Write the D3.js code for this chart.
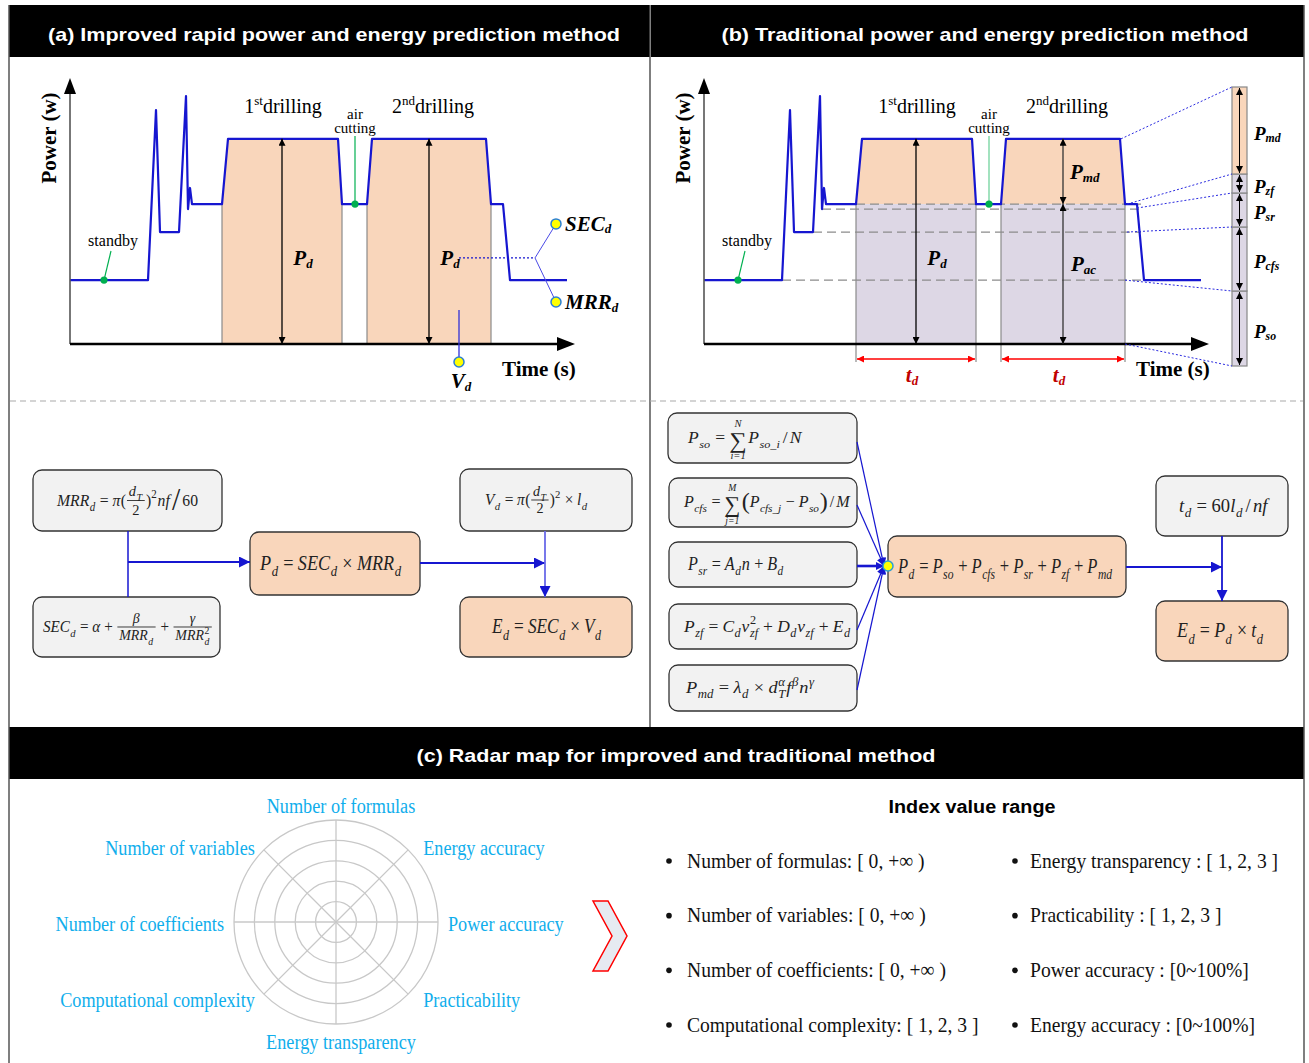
<!DOCTYPE html>
<html>
<head>
<meta charset="utf-8">
<script src="https://cdn.jsdelivr.net/npm/d3@7"></script>
<style>
  body { margin: 0; background: #fff; }
  svg { display: block; }
</style>
</head>
<body>
<div id="fig"></div>
<script>
// power curve of one drilling cycle (schematic, time in s, power in W)
var curveTime  = [0, 15.6, 17.2, 18, 21.8, 23.2, 23.6, 24, 24.4, 30.4, 31.6, 53.6, 54.4, 59.4, 60.4, 83.2, 84.2, 86.6, 88, 99.4];
var curvePower = [242, 242, 886, 424, 424, 939, 511, 591, 530, 530, 777, 777, 530, 530, 777, 777, 530, 530, 242, 242];
var drillStart = [30.4, 59.4];
var drillEnd   = [54.4, 84.2];
var drillNum   = ["1", "2"];
var drillSup   = ["st", "nd"];
var peakPower  = 777;

// idle levels that make up the base power in (b)
var levelPower = [242, 424, 511, 530];
var levelStart = [15.6, 21.8, 23.6, 30.4];

// magnified stack at the right of (b), bottom to top
var stackSubs   = ["so", "cfs", "sr", "zf", "md"];
var stackValues = [75, 64, 34, 19, 87];
// points of the curve that the dotted guides leave from
var guideTime  = [84.2, 84.2, 84.6, 86.6, 84.6, 83.4];
var guidePower = [0, 242, 424, 515, 530, 777];

// radar axes, clockwise from the top
var radarAxes = ["Number of formulas", "Energy accuracy", "Power accuracy", "Practicability",
                 "Energy transparency", "Computational complexity", "Number of coefficients", "Number of variables"];
var radarRings = [1, 2, 3, 4, 5];

var indexLeft  = ["Number of formulas: [ 0, +\u221e )", "Number of variables: [ 0, +\u221e )",
                  "Number of coefficients: [ 0, +\u221e )", "Computational complexity: [ 1, 2, 3 ]"];
var indexRight = ["Energy transparency : [ 1, 2, 3 ]", "Practicability : [ 1, 2, 3 ]",
                  "Power accuracy : [0~100%]", "Energy accuracy : [0~100%]"];

var titles = ["(a) Improved rapid power and energy prediction method",
              "(b) Traditional power and energy prediction method",
              "(c) Radar map for improved and traditional method"];

var SERIF = "'Liberation Serif','Times New Roman',serif";
var SANS = "'Liberation Sans',Arial,sans-serif";
var BLUE = "#1616d0", GREEN = "#00b050", PEACH = "#f9d6bb", LILAC = "#ddd7e5", BOX = "#f2f2f2";

var svg = d3.select("#fig").append("svg").attr("width", 1309).attr("height", 1063)
  .attr("font-family", SERIF);

var defs = svg.append("defs");
function marker(id, color, w, h) {
  defs.append("marker").attr("id", id).attr("viewBox", "0 0 10 10")
    .attr("refX", 10).attr("refY", 5).attr("markerWidth", w).attr("markerHeight", h)
    .attr("markerUnits", "userSpaceOnUse").attr("orient", "auto-start-reverse")
    .append("path").attr("d", "M0,0L10,5L0,10z").attr("fill", color);
}
marker("ab", "#000", 8, 7);
marker("ar", "#f00", 9, 7);
marker("au", BLUE, 14, 11);
marker("au2", BLUE, 10, 8);

function fitText(sel, w) { sel.attr("textLength", w).attr("lengthAdjust", "spacingAndGlyphs"); }
function squeeze(sel, k) {
  var L = sel.node().getComputedTextLength();
  sel.attr("textLength", L * k).attr("lengthAdjust", "spacingAndGlyphs");
}

// frame, headers, separators
svg.append("rect").attr("x", 9).attr("y", 5).attr("width", 641).attr("height", 52).attr("fill", "#000");
svg.append("rect").attr("x", 651).attr("y", 5).attr("width", 653).attr("height", 52).attr("fill", "#000");
svg.append("rect").attr("x", 9).attr("y", 727).attr("width", 1295).attr("height", 52).attr("fill", "#000");
[[9, 5, 9, 1063], [1304, 5, 1304, 1063], [650, 5, 650, 727]].forEach(function(l) {
  svg.append("line").attr("x1", l[0]).attr("y1", l[1]).attr("x2", l[2]).attr("y2", l[3])
    .attr("stroke", "#555").attr("stroke-width", 1.5);
});
svg.append("line").attr("x1", 10).attr("x2", 1303).attr("y1", 401).attr("y2", 401)
  .attr("stroke", "#aaa").attr("stroke-width", 1.2).attr("stroke-dasharray", "6,4");

[[334, 41, 572], [985, 41, 527], [676, 762, 519]].forEach(function(p, i) {
  var t = svg.append("text").attr("x", p[0]).attr("y", p[1]).attr("text-anchor", "middle")
    .attr("font-family", SANS).attr("font-weight", "bold").attr("font-size", 19)
    .attr("fill", "#fff").text(titles[i]);
  fitText(t, p[2]);
});

function subLabel(g, x, y, main, sub, fs, anchor, color) {
  var t = g.append("text").attr("x", x).attr("y", y).attr("font-size", fs)
    .attr("font-weight", "bold").attr("font-style", "italic")
    .attr("text-anchor", anchor || "start").attr("fill", color || "#000");
  t.append("tspan").text(main);
  t.append("tspan").attr("font-size", fs * 0.62).attr("dy", fs * 0.12).text(sub);
  return t;
}
function arrowLine(g, x1, y1, x2, y2, color, w, mEnd, mStart) {
  var l = g.append("line").attr("x1", x1).attr("y1", y1).attr("x2", x2).attr("y2", y2)
    .attr("stroke", color).attr("stroke-width", w);
  if (mEnd) l.attr("marker-end", "url(#" + mEnd + ")");
  if (mStart) l.attr("marker-start", "url(#" + mStart + ")");
  return l;
}
function dot(g, x, y, r, fill, stroke) {
  g.append("circle").attr("cx", x).attr("cy", y).attr("r", r).attr("fill", fill)
    .attr("stroke", stroke || "none").attr("stroke-width", 1.5);
}

// ---------- power / time charts ----------
function timeChart(ox, traditional) {
  var g = svg.append("g");
  var x = d3.scaleLinear().domain([0, 100]).range([ox, ox + 500]);
  var y = d3.scaleLinear().domain([0, 1000]).range([344, 80]);
  var pts = curveTime.map(function(t, i) { return [t, curvePower[i]]; });
  var idle = levelPower[levelPower.length - 1];

  drillStart.forEach(function(s, i) {
    var e = drillEnd[i];
    var seg = pts.filter(function(p) { return p[0] >= s && p[0] <= e; });
    var area = d3.area().x(function(p) { return x(p[0]); }).y1(function(p) { return y(p[1]); });
    if (!traditional) {
      g.append("path").attr("d", area.y0(y(0))(seg)).attr("fill", PEACH);
    } else {
      g.append("path").attr("d", area.y0(y(idle))(seg)).attr("fill", PEACH);
      g.append("rect").attr("x", x(s)).attr("width", x(e) - x(s)).attr("y", y(idle))
        .attr("height", y(0) - y(idle)).attr("fill", LILAC);
    }
    [s, e].forEach(function(t) {
      g.append("line").attr("x1", x(t)).attr("x2", x(t)).attr("y1", y(idle))
        .attr("y2", traditional ? 362 : y(0)).attr("stroke", "#8a8a8a").attr("stroke-width", 1.2);
    });
  });

  if (traditional) {
    levelPower.forEach(function(p, i) {
      g.append("line").attr("x1", x(levelStart[i])).attr("x2", x(87.4)).attr("y1", y(p)).attr("y2", y(p))
        .attr("stroke", "#8c8c8c").attr("stroke-width", 1.3).attr("stroke-dasharray", "9,5");
    });
  }

  // curve
  g.append("path").attr("d", d3.line().x(function(p) { return x(p[0]); }).y(function(p) { return y(p[1]); })(pts))
    .attr("fill", "none").attr("stroke", BLUE).attr("stroke-width", 2.2).attr("stroke-linejoin", "round");

  // axes
  g.append("line").attr("x1", ox).attr("x2", ox).attr("y1", y(0)).attr("y2", 90)
    .attr("stroke", "#555").attr("stroke-width", 1.6);
  g.append("path").attr("d", "M" + (ox - 6) + ",94L" + ox + ",78L" + (ox + 6) + ",94Z").attr("fill", "#000");
  g.append("line").attr("x1", ox).attr("x2", ox + 492).attr("y1", y(0)).attr("y2", y(0))
    .attr("stroke", "#000").attr("stroke-width", 2.6);
  g.append("path").attr("d", "M" + (ox + 487) + ",337L" + (ox + 505) + ",344L" + (ox + 487) + ",351Z").attr("fill", "#000");

  g.append("text").attr("transform", "translate(" + (ox - 21) + ",138) rotate(-90)")
    .attr("text-anchor", "middle").attr("dominant-baseline", "central")
    .attr("font-size", 21).attr("font-weight", "bold").text("Power (w)");
  g.append("text").attr("x", ox + 432).attr("y", 376).attr("font-size", 21)
    .attr("font-weight", "bold").text("Time (s)");

  // drilling titles
  drillStart.forEach(function(s, i) {
    var m = (s + drillEnd[i]) / 2;
    var t = g.append("text").attr("x", x(m) + (i ? 4 : 1)).attr("y", 113).attr("text-anchor", "middle").attr("font-size", 20);
    t.append("tspan").text(drillNum[i]);
    t.append("tspan").attr("font-size", 13).attr("dy", -8).text(drillSup[i]);
    t.append("tspan").attr("dy", 8).text("drilling");
  });

  // standby / air cutting markers
  g.append("line").attr("x1", x(6.8) + 7).attr("y1", 251).attr("x2", x(6.8)).attr("y2", y(242))
    .attr("stroke", GREEN).attr("stroke-width", 1.2);
  dot(g, x(6.8), y(242), 3.6, GREEN);
  g.append("text").attr("x", x(6.8) + 9).attr("y", 246).attr("text-anchor", "middle")
    .attr("font-size", 16).text("standby");
  g.append("line").attr("x1", x(57)).attr("x2", x(57)).attr("y1", 136).attr("y2", y(idle))
    .attr("stroke", GREEN).attr("stroke-width", 1.2).attr("opacity", traditional ? 0.6 : 1);
  dot(g, x(57), y(idle), 3.6, GREEN);
  g.append("text").attr("x", x(57)).attr("y", 119).attr("text-anchor", "middle").attr("font-size", 15).text("air");
  g.append("text").attr("x", x(57)).attr("y", 133).attr("text-anchor", "middle").attr("font-size", 15).text("cutting");

  var mid = drillStart.map(function(s, i) { return (s + drillEnd[i]) / 2; });

  if (!traditional) {
    mid.forEach(function(m) {
      arrowLine(g, x(m), y(peakPower), x(m), y(0), "#000", 1.3, "ab", "ab");
      subLabel(g, x(m) + 21, 265, "P", "d", 21, "middle");
    });
    // links to SEC / MRR / V
    g.append("line").attr("x1", x(77.8)).attr("x2", x(93)).attr("y1", y(326)).attr("y2", y(326))
      .attr("stroke", BLUE).attr("stroke-width", 1.3).attr("stroke-dasharray", "2,2");
    [455, 159].forEach(function(p) {
      g.append("line").attr("x1", x(93)).attr("y1", y(326)).attr("x2", x(97.2)).attr("y2", y(p))
        .attr("stroke", "#4a4ae6").attr("stroke-width", 1);
      dot(g, x(97.2), y(p), 5, "#ffff00", "#2a7fd4");
    });
    subLabel(g, x(97.2) + 9, y(455) + 7, "SEC", "d", 21);
    subLabel(g, x(97.2) + 9, y(159) + 7, "MRR", "d", 21);
    g.append("line").attr("x1", x(77.8)).attr("x2", x(77.8)).attr("y1", 310).attr("y2", 357)
      .attr("stroke", "#3030d8").attr("stroke-width", 1.3);
    dot(g, x(77.8), 362, 5, "#ffff00", "#2a7fd4");
    subLabel(g, x(77.8) + 2, 388, "V", "d", 21, "middle");
  } else {
    arrowLine(g, x(mid[0]), y(peakPower), x(mid[0]), y(0), "#000", 1.3, "ab", "ab");
    subLabel(g, x(mid[0]) + 21, 265, "P", "d", 21, "middle");
    arrowLine(g, x(mid[1]), y(peakPower), x(mid[1]), y(idle), "#333", 1.3, "ab", "ab");
    arrowLine(g, x(mid[1]), y(idle), x(mid[1]), y(0), "#333", 1.3, "ab", "ab");
    subLabel(g, x(mid[1]) + 7, 179, "P", "md", 21);
    subLabel(g, x(mid[1]) + 8, 271, "P", "ac", 21);
    drillStart.forEach(function(s, i) {
      arrowLine(g, x(s) + 1, 359, x(drillEnd[i]) - 1, 359, "#f00", 1.5, "ar", "ar");
      subLabel(g, x(mid[i]) - 4, 382, "t", "d", 21, "middle", "#c00000");
    });

    // magnified stack
    var total = d3.sum(stackValues);
    var sy = d3.scaleLinear().domain([0, total]).range([366, 87]);
    var cum = 0;
    var bx = 1232, bw = 15;
    stackValues.forEach(function(v, i) {
      var y0 = sy(cum), y1 = sy(cum + v);
      g.append("rect").attr("x", bx).attr("width", bw).attr("y", y1).attr("height", y0 - y1)
        .attr("fill", stackSubs[i] === "md" ? PEACH : LILAC).attr("stroke", "#888").attr("stroke-width", 1.2);
      arrowLine(g, bx + bw / 2, y1 + 1, bx + bw / 2, y0 - 1, "#000", 1, "ab", "ab");
      subLabel(g, 1254, (y0 + y1) / 2 + 9, "P", stackSubs[i], 19);
      cum += v;
    });
    // dotted guides from chart to stack
    var bounds = [0];
    stackValues.forEach(function(v, i) { bounds.push(bounds[i] + v); });
    guideTime.forEach(function(t, i) {
      g.append("line").attr("x1", x(t)).attr("y1", y(guidePower[i])).attr("x2", bx).attr("y2", sy(bounds[i]))
        .attr("stroke", "#2a2ae0").attr("stroke-width", 1).attr("stroke-dasharray", "2,2");
    });
  }
}
timeChart(70, false);
timeChart(704, true);

// ---------- formula boxes ----------
function put(g, s, x, y, fs, it, anchor) {
  var t = g.append("text").attr("x", x).attr("y", y).attr("font-size", fs)
    .attr("font-style", it ? "italic" : "normal").attr("text-anchor", anchor || "start").text(s);
  return t.node().getComputedTextLength();
}
var OPS = ["=", "+", "\u00d7", "\u2212", "/"];
function typeset(g, toks, fs) {
  var x = 0;
  toks.forEach(function(tk) {
    if (tk.t !== undefined) {
      var op = OPS.indexOf(tk.t) >= 0;
      var it = !(op || tk.r || /^[0-9()]+$/.test(tk.t));
      var pad = op ? fs * (tk.t === "/" ? 0.12 : 0.24) : 0;
      x += pad;
      x += put(g, tk.t, x, (tk.dy || 0) * fs, fs * (tk.k || 1), it);
      x += pad + (it ? fs * 0.03 : 0);
    } else if (tk.sub !== undefined || tk.sup !== undefined) {
      var w1 = 0, w2 = 0;
      if (tk.sub !== undefined) w1 = put(g, tk.sub, x, fs * 0.3, fs * 0.7, true);
      if (tk.sup !== undefined) w2 = put(g, tk.sup, x, -fs * 0.42, fs * 0.7, !/^[0-9]+$/.test(tk.sup));
      x += Math.max(w1, w2) + fs * 0.05;
    } else if (tk.frac) {
      var fs2 = fs * 0.92;
      var ng = g.append("g"), dg = g.append("g");
      var nw = typeset(ng, tk.frac[0], fs2), dw = typeset(dg, tk.frac[1], fs2);
      x += fs * 0.06;
      var w = Math.max(nw, dw) + fs * 0.24;
      var bar = -fs * 0.3;
      ng.attr("transform", "translate(" + (x + (w - nw) / 2) + "," + (bar - fs * 0.24) + ")");
      dg.attr("transform", "translate(" + (x + (w - dw) / 2) + "," + (bar + fs * 0.84) + ")");
      g.append("line").attr("x1", x).attr("x2", x + w).attr("y1", bar).attr("y2", bar)
        .attr("stroke", "#222").attr("stroke-width", 0.9);
      x += w + fs * 0.08;
    } else if (tk.sum) {
      var ws = put(g, "\u2211", x, fs * 0.3, fs * 1.4, false);
      put(g, tk.sum[0], x + ws / 2, -fs * 1.0, fs * 0.6, true, "middle");
      put(g, tk.sum[1], x + ws / 2, fs * 1.02, fs * 0.6, true, "middle");
      x += ws + fs * 0.08;
    }
  });
  return x;
}

var fMRR = [{t: "MRR"}, {sub: "d"}, {t: "="}, {t: "\u03c0"}, {t: "("}, {frac: [[{t: "d"}, {sub: "T"}], [{t: "2"}]]},
            {t: ")"}, {sup: "2"}, {t: "nf"}, {t: "/", k: 1.9, dy: 0.28}, {t: "60"}];
var fSEC = [{t: "SEC"}, {sub: "d"}, {t: "="}, {t: "\u03b1"}, {t: "+"}, {frac: [[{t: "\u03b2"}], [{t: "MRR"}, {sub: "d"}]]},
            {t: "+"}, {frac: [[{t: "\u03b3"}], [{t: "MRR"}, {sub: "d", sup: "2"}]]}];
var fPdA = [{t: "P"}, {sub: "d"}, {t: "="}, {t: "SEC"}, {sub: "d"}, {t: "\u00d7"}, {t: "MRR"}, {sub: "d"}];
var fVd = [{t: "V"}, {sub: "d"}, {t: "="}, {t: "\u03c0"}, {t: "("}, {frac: [[{t: "d"}, {sub: "T"}], [{t: "2"}]]},
           {t: ")"}, {sup: "2"}, {t: "\u00d7"}, {t: "l"}, {sub: "d"}];
var fEdA = [{t: "E"}, {sub: "d"}, {t: "="}, {t: "SEC"}, {sub: "d"}, {t: "\u00d7"}, {t: "V"}, {sub: "d"}];
var fPso = [{t: "P"}, {sub: "so"}, {t: "="}, {sum: ["N", "i=1"]}, {t: "P"}, {sub: "so_i"}, {t: "/"}, {t: "N"}];
var fPcfs = [{t: "P"}, {sub: "cfs"}, {t: "="}, {sum: ["M", "j=1"]}, {t: "(", k: 1.5, dy: 0.12}, {t: "P"}, {sub: "cfs_j"},
             {t: "\u2212"}, {t: "P"}, {sub: "so"}, {t: ")", k: 1.5, dy: 0.12}, {t: "/"}, {t: "M"}];
var fPsr = [{t: "P"}, {sub: "sr"}, {t: "="}, {t: "A"}, {sub: "d"}, {t: "n"}, {t: "+"}, {t: "B"}, {sub: "d"}];
var fPzf = [{t: "P"}, {sub: "zf"}, {t: "="}, {t: "C"}, {sub: "d"}, {t: "v"}, {sub: "zf", sup: "2"}, {t: "+"},
            {t: "D"}, {sub: "d"}, {t: "v"}, {sub: "zf"}, {t: "+"}, {t: "E"}, {sub: "d"}];
var fPmd = [{t: "P"}, {sub: "md"}, {t: "="}, {t: "\u03bb"}, {sub: "d"}, {t: "\u00d7"}, {t: "d"}, {sub: "T", sup: "\u03b1"},
            {t: "f"}, {sup: "\u03b2"}, {t: "n"}, {sup: "\u03b3"}];
var fPdB = [{t: "P"}, {sub: "d"}, {t: "="}, {t: "P"}, {sub: "so"}, {t: "+"}, {t: "P"}, {sub: "cfs"}, {t: "+"},
            {t: "P"}, {sub: "sr"}, {t: "+"}, {t: "P"}, {sub: "zf"}, {t: "+"}, {t: "P"}, {sub: "md"}];
var fTd = [{t: "t"}, {sub: "d"}, {t: "="}, {t: "60"}, {t: "l"}, {sub: "d"}, {t: "/"}, {t: "nf"}];
var fEdB = [{t: "E"}, {sub: "d"}, {t: "="}, {t: "P"}, {sub: "d"}, {t: "\u00d7"}, {t: "t"}, {sub: "d"}];

var formulaBoxes = [
  {box: [33, 470, 222, 531], fill: BOX, toks: fMRR, fs: 17, x: 57, w: 141},
  {box: [33, 597, 220, 657], fill: BOX, toks: fSEC, fs: 16, x: 43, w: 170},
  {box: [250, 532, 420, 595], fill: PEACH, toks: fPdA, fs: 21, x: 260, w: 142},
  {box: [460, 469, 632, 531], fill: BOX, toks: fVd, fs: 16, x: 485, w: 103},
  {box: [460, 597, 632, 657], fill: PEACH, toks: fEdA, fs: 21, x: 492, w: 110},
  {box: [668, 413, 857, 463], fill: BOX, toks: fPso, fs: 16, x: 688, w: 114},
  {box: [669, 478, 857, 527], fill: BOX, toks: fPcfs, fs: 16, x: 684, w: 166},
  {box: [669, 542, 857, 587], fill: BOX, toks: fPsr, fs: 18, x: 688, w: 96},
  {box: [669, 604, 857, 649], fill: BOX, toks: fPzf, fs: 17, x: 684, w: 167},
  {box: [669, 665, 857, 711], fill: BOX, toks: fPmd, fs: 17, x: 686, w: 129},
  {box: [888, 536, 1126, 597], fill: PEACH, toks: fPdB, fs: 20, x: 898, w: 215},
  {box: [1156, 476, 1288, 536], fill: BOX, toks: fTd, fs: 19, x: 1179, w: 89},
  {box: [1156, 601, 1288, 661], fill: PEACH, toks: fEdB, fs: 21, x: 1177, w: 87}
];

var fg = svg.append("g");
formulaBoxes.forEach(function(f) {
  var b = f.box;
  fg.append("rect").attr("x", b[0]).attr("y", b[1]).attr("width", b[2] - b[0]).attr("height", b[3] - b[1])
    .attr("rx", 9).attr("fill", f.fill).attr("stroke", "#333").attr("stroke-width", 1.3);
  var g = fg.append("g").attr("fill", "#222");
  var w0 = typeset(g, f.toks, f.fs);
  var base = (b[1] + b[3]) / 2 + f.fs * 0.3;
  g.attr("transform", "translate(" + f.x + "," + base + ") scale(" + (f.w / w0) + ",1)");
});

// flow arrows (a)
arrowLine(fg, 128, 531, 128, 597, BLUE, 1.5);
arrowLine(fg, 128, 562, 250, 562, BLUE, 1.8, "au");
arrowLine(fg, 420, 563, 545, 563, BLUE, 1.8, "au");
arrowLine(fg, 545, 531, 545, 597, "#6a6ae8", 1.8, "au");
// flow arrows (b)
[[857, 442], [857, 505], [857, 630], [857, 690]].forEach(function(p) {
  arrowLine(fg, p[0], p[1], 884, 566, BLUE, 1.2, "au2");
});
arrowLine(fg, 857, 566, 884, 566, BLUE, 2.6, "au2");
dot(fg, 888, 566, 5, "#ffff00", "#2a9fd4");
arrowLine(fg, 1126, 567, 1222, 567, BLUE, 1.8, "au");
arrowLine(fg, 1222, 536, 1222, 601, BLUE, 1.8, "au");

// ---------- radar ----------
var RC = {x: 336, y: 922};
var rr = d3.scaleLinear().domain([0, 5]).range([0, 102]);
var rg = svg.append("g");
radarRings.forEach(function(k) {
  rg.append("circle").attr("cx", RC.x).attr("cy", RC.y).attr("r", rr(k))
    .attr("fill", "none").attr("stroke", "#c8c8c8").attr("stroke-width", 1.3);
});
radarAxes.forEach(function(name, i) {
  var a = i * Math.PI / 4, sx = Math.sin(a), sy = -Math.cos(a);
  rg.append("line").attr("x1", RC.x).attr("y1", RC.y).attr("x2", RC.x + rr(5) * sx).attr("y2", RC.y + rr(5) * sy)
    .attr("stroke", "#c8c8c8").attr("stroke-width", 1.3);
  var diag = Math.abs(sx) > 0.01 && Math.abs(sy) > 0.01;
  var anchor = Math.abs(sx) < 0.01 ? "middle" : (sx > 0 ? "start" : "end");
  var lx = RC.x + 112 * sx + (anchor === "middle" ? 5 : 0) + (diag ? (sx > 0 ? 8 : -2) : 0);
  var ly = RC.y + sy * (diag ? 108 : 118) + 2;
  var t = rg.append("text").attr("x", lx).attr("y", ly).attr("text-anchor", anchor)
    .attr("dominant-baseline", "central").attr("font-size", 20).attr("fill", "#10aeec").text(name);
  squeeze(t, 0.91);
});
rg.append("path").attr("d", "M593,901L608,901L627,936L608,971L593,971L612,936Z")
  .attr("fill", "#e6eaf1").attr("stroke", "#f00").attr("stroke-width", 1.5);

// ---------- index value ranges ----------
var ig = svg.append("g");
var hd = ig.append("text").attr("x", 972).attr("y", 807).attr("text-anchor", "middle")
  .attr("dominant-baseline", "central").attr("font-family", SANS).attr("font-weight", "bold")
  .attr("font-size", 18).text("Index value range");
fitText(hd, 167);
var rowY = d3.scaleLinear().domain([0, 3]).range([860, 1024]);
[[indexLeft, 669, 687], [indexRight, 1015, 1030]].forEach(function(col) {
  col[0].forEach(function(s, i) {
    ig.append("circle").attr("cx", col[1]).attr("cy", rowY(i) + 1).attr("r", 2.8).attr("fill", "#111");
    var t = ig.append("text").attr("x", col[2]).attr("y", rowY(i)).attr("dominant-baseline", "central")
      .attr("font-size", 22).attr("fill", "#111").text(s);
    squeeze(t, 0.89);
  });
});
</script>
</body>
</html>
